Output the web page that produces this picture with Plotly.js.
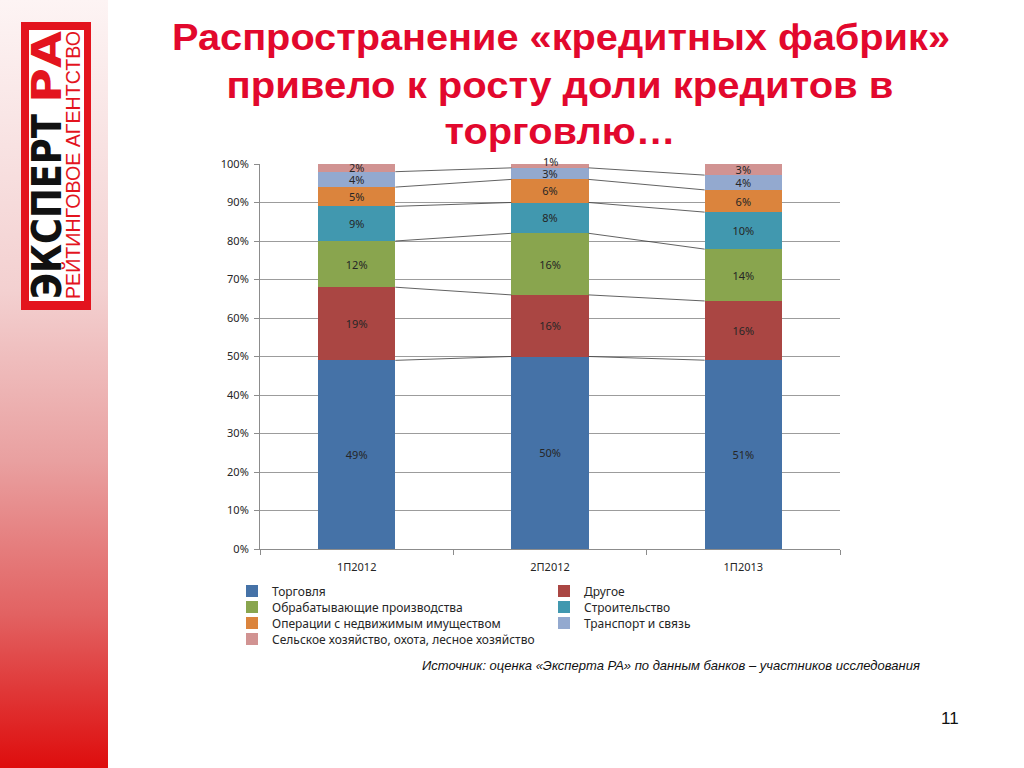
<!DOCTYPE html>
<html>
<head>
<meta charset="utf-8">
<script src="https://cdn.plot.ly/plotly-3.0.1.min.js"></script>
<style>
  html, body { margin:0; padding:0; background:#ffffff; }
  #wrap { position:relative; width:1024px; height:768px; overflow:hidden; }
  #deco { position:absolute; left:0; top:0; z-index:0; }
  #chart { position:absolute; left:0; top:0; width:1024px; height:768px; z-index:1; }
</style>
</head>
<body>
<div id="wrap">
<svg id="deco" width="1024" height="768" xmlns="http://www.w3.org/2000/svg">
  <defs>
    <linearGradient id="band" x1="0" y1="0" x2="0" y2="1">
      <stop offset="0" stop-color="#fdf4f4"/>
      <stop offset="0.38" stop-color="#f3d0d0"/>
      <stop offset="0.6" stop-color="#e9a0a0"/>
      <stop offset="0.8" stop-color="#e26262"/>
      <stop offset="1" stop-color="#de0d0d"/>
    </linearGradient>
  </defs>
  <rect x="0" y="0" width="108" height="768" fill="url(#band)"/>
  <rect x="21" y="22" width="70" height="288" fill="#e3141e"/>
  <rect x="29" y="30" width="55" height="271" fill="#ffffff"/>
  <g transform="translate(61,299) rotate(-90)">
    <text x="0" y="0" font-family="DejaVu Sans Condensed, DejaVu Sans" font-weight="bold" font-size="41" fill="#111111" textLength="185" lengthAdjust="spacingAndGlyphs">ЭКСПЕРТ</text>
    <text x="196" y="0" font-family="DejaVu Sans Condensed, DejaVu Sans" font-weight="bold" font-size="41" fill="#e3141e" textLength="72" lengthAdjust="spacingAndGlyphs">РА</text>
  </g>
  <g transform="translate(80,299) rotate(-90)">
    <text x="0" y="0" font-family="Liberation Sans Narrow, Liberation Sans" font-size="20" fill="#e3141e" textLength="268" lengthAdjust="spacingAndGlyphs">РЕЙТИНГОВОЕ АГЕНТСТВО</text>
  </g>
  <g font-family="Liberation Sans, Arial, sans-serif" font-weight="bold" font-size="36" fill="#e2082d" text-anchor="middle">
    <text x="561" y="50" textLength="778" lengthAdjust="spacingAndGlyphs">Распространение «кредитных фабрик»</text>
    <text x="560" y="98" textLength="667" lengthAdjust="spacingAndGlyphs">привело к росту доли кредитов в</text>
    <text x="560" y="144" textLength="231" lengthAdjust="spacingAndGlyphs">торговлю…</text>
  </g>
</svg>
<div id="chart"></div>
</div>
<script>
var categories = ['1П2012', '2П2012', '1П2013'];
var seriesNames = ['Торговля', 'Другое', 'Обрабатывающие производства', 'Строительство',
                   'Операции с недвижимым имуществом', 'Транспорт и связь',
                   'Сельское хозяйство, охота, лесное хозяйство'];
var torgovlya   = [49, 50, 51];
var drugoe      = [19, 16, 16];
var obrab       = [12, 16, 14];
var stroit      = [9, 8, 10];
var operacii    = [5, 6, 6];
var transport   = [4, 3, 4];
var selskoe     = [2, 1, 3];
var seriesColors = ['#4572a7', '#aa4643', '#89a54e', '#4198af', '#db843d', '#93a9cf', '#d19392'];
var yTickVals = [0,10,20,30,40,50,60,70,80,90,100];
var yTickText = ['0%','10%','20%','30%','40%','50%','60%','70%','80%','90%','100%'];

var seriesValues = [torgovlya, drugoe, obrab, stroit, operacii, transport, selskoe];
var xs = categories.map(function(c, i){ return i; });
var totals = xs.map(function(i){
  var s = 0; seriesValues.forEach(function(v){ s += v[i]; }); return s;
});
// legend rows (two items per row, like the reference)
var legendOf = [ 'legend', 'legend', 'legend2', 'legend2', 'legend3', 'legend3', 'legend4' ];
var labelFont = { family: 'Noto Sans, sans-serif', size: 11, color: '#262626' };

var traces = [];
var extraLabels = [];
var cum = xs.map(function(){ return 0; });
var cumLevels = [];
seriesValues.forEach(function(vals, k){
  var norm = vals.map(function(v, i){ return v / totals[i] * 100; });
  var isTop = (k === seriesValues.length - 1);
  var newCum = cum.map(function(c, i){ return c + norm[i]; });
  var texts = vals.map(function(v, i){
    if (isTop && v < 2) {
      // tiny top segment: label sits just over the segment (as in the reference)
      extraLabels.push({ text: v + '%', x: xs[i], y: newCum[i], xref: 'x', yref: 'y',
        yanchor: 'middle', yshift: 3, showarrow: false, font: labelFont });
      return '';
    }
    return v + '%';
  });
  traces.push({
    type: 'bar', x: xs, y: norm, name: seriesNames[k],
    marker: { color: seriesColors[k], line: { width: 0 } },
    width: 0.4,
    text: texts,
    textposition: 'inside', insidetextanchor: 'middle', constraintext: 'none', textangle: 0,
    textfont: labelFont,
    hoverinfo: 'none',
    legend: legendOf[k]
  });
  cum = newCum;
  cumLevels.push(cum.slice());
});
// series connector lines between bars
for (var k = 0; k < cumLevels.length - 1; k++) {
  var lx = [], ly = [];
  for (var i = 0; i < xs.length - 1; i++) {
    lx.push(xs[i] + 0.2, xs[i + 1] - 0.2, null);
    ly.push(cumLevels[k][i], cumLevels[k][i + 1], null);
  }
  traces.push({ type: 'scatter', mode: 'lines', x: lx, y: ly, showlegend: false,
    line: { color: '#3a3a3a', width: 0.8 }, hoverinfo: 'none' });
}

function legendRow(rowY) {
  return {
    x: (232 - 260) / 580, xanchor: 'left', y: (549 - rowY) / 385, yanchor: 'middle',
    orientation: 'h', traceorder: 'normal', bgcolor: 'rgba(0,0,0,0)',
    font: { family: 'Noto Sans, sans-serif', size: 12, color: '#262626' },
    itemwidth: 30, entrywidth: 267, entrywidthmode: 'pixels'
  };
}

var layout = {
  width: 1024, height: 768,
  margin: { l: 260, r: 184, t: 164, b: 219 },
  paper_bgcolor: 'rgba(0,0,0,0)', plot_bgcolor: '#ffffff',
  barmode: 'stack',
  showlegend: true,
  xaxis: {
    range: [-0.5, 2.5], tickvals: xs, ticktext: categories, ticks: '',
    showgrid: false, zeroline: false, showline: true, linecolor: '#8c8c8c', linewidth: 1,
    tickfont: { family: 'Noto Sans, sans-serif', size: 11, color: '#262626' },
    ticklabelstandoff: 8,
    minor: { tickvals: [-0.5, 0.5, 1.5, 2.5], ticks: 'outside', ticklen: 5, tickcolor: '#8c8c8c', showgrid: false }
  },
  yaxis: {
    range: [0, 100], tickvals: yTickVals, ticktext: yTickText,
    showgrid: true, gridcolor: '#9c9c9c', gridwidth: 1, zeroline: false,
    showline: true, linecolor: '#8c8c8c', linewidth: 1,
    ticks: 'outside', ticklen: 5, tickcolor: '#8c8c8c',
    tickfont: { family: 'Noto Sans, sans-serif', size: 11, color: '#262626' },
    ticklabelstandoff: 3
  },
  legend: legendRow(591),
  legend2: legendRow(607),
  legend3: legendRow(623),
  legend4: legendRow(639),
  annotations: extraLabels.concat([
    { text: 'Источник: оценка «Эксперта РА» по данным банков – участников исследования',
      xref: 'paper', yref: 'paper', x: (922 - 260) / 580, xanchor: 'right',
      y: (549 - 665) / 385, yanchor: 'middle', showarrow: false,
      font: { family: 'Liberation Sans, Arial, sans-serif', size: 13, color: '#111111', style: 'italic' } },
    { text: '11', xref: 'paper', yref: 'paper', x: (950 - 260) / 580, xanchor: 'center',
      y: (549 - 718) / 385, yanchor: 'middle', showarrow: false,
      font: { family: 'Liberation Sans, Arial, sans-serif', size: 17, color: '#111111' } }
  ])
};

Plotly.newPlot('chart', traces, layout, { staticPlot: true, displayModeBar: false });
</script>
</body>
</html>
